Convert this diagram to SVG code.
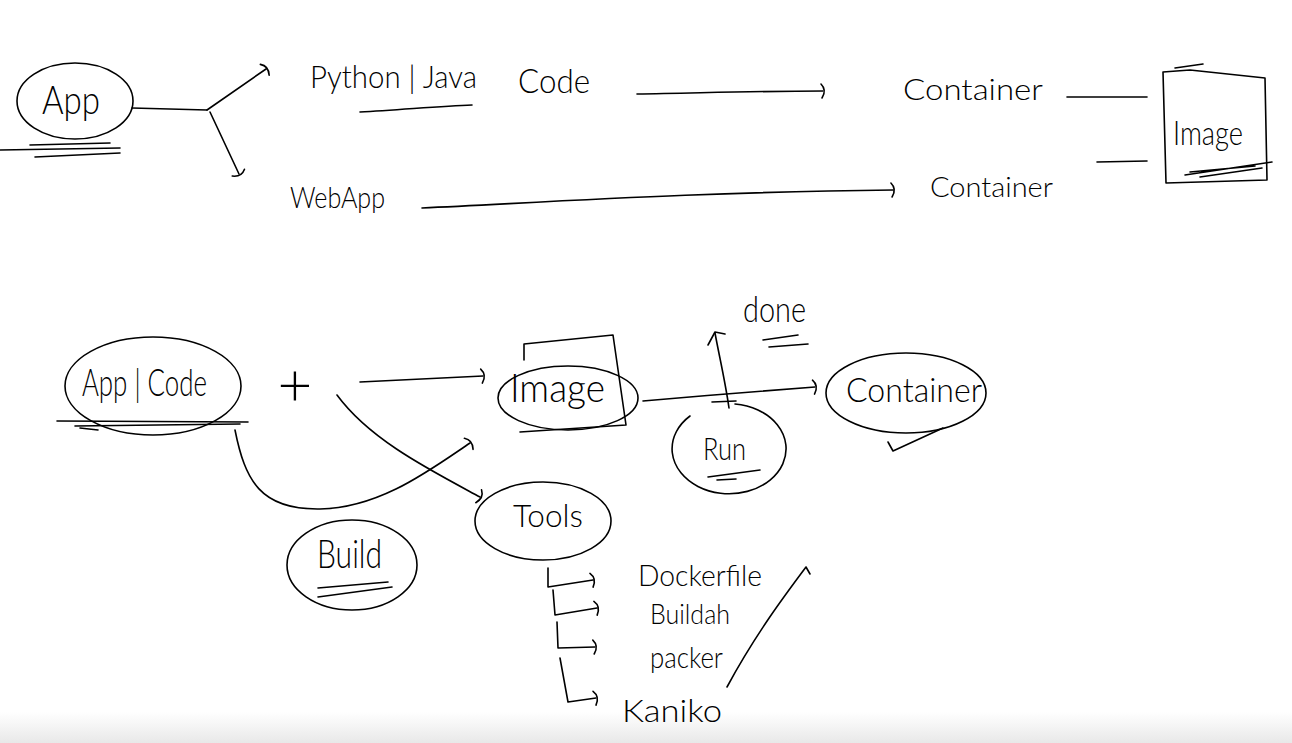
<svg xmlns="http://www.w3.org/2000/svg" width="1292" height="743" viewBox="0 0 1292 743">
<style>
.s{fill:none;stroke:#000;stroke-width:1.6;stroke-linecap:round;stroke-linejoin:round}
.t{font-family:"Lato","Open Sans","Liberation Sans",sans-serif;font-weight:300;fill:#000}
</style>
<defs>
<linearGradient id="bg" x1="0" y1="0" x2="0" y2="1">
<stop offset="0" stop-color="#ffffff"/>
<stop offset="1" stop-color="#e8e8e8"/>
</linearGradient>
<marker id="ah" markerUnits="userSpaceOnUse" markerWidth="16" markerHeight="20" refX="4" refY="10" orient="auto" viewBox="0 0 16 20">
<path d="M2,3 Q8,9 3,17" fill="none" stroke="#000" stroke-width="1.6" stroke-linecap="round"/>
</marker>
</defs>
<rect x="0" y="0" width="1292" height="743" fill="#fff"/>
<rect x="0" y="712" width="1292" height="31" fill="url(#bg)"/>

<g id="connectors">
<path class="s" d="M132,108 L207,110"/>
<path class="s" d="M207,110 L266,69" marker-end="url(#ah)"/>
<path class="s" d="M210,112 L239,174" marker-end="url(#ah)"/>
<path class="s" d="M637,94 C700,93 760,91 823,91" marker-end="url(#ah)"/>
<path class="s" d="M422,208 C550,202 700,192 893,190" marker-end="url(#ah)"/>
<path class="s" d="M1067,97 L1147,97"/>
<path class="s" d="M1097,162 L1147,161"/>
<path class="s" d="M360,382 C400,380 440,378 483,376" marker-end="url(#ah)"/>
<path class="s" d="M337,395 C370,440 430,470 480,497" marker-end="url(#ah)"/>
<path class="s" d="M235,430 C245,480 260,510 320,509 C380,508 430,470 470,443" marker-end="url(#ah)"/>
<path class="s" d="M643,401 C700,396 760,391 815,387" marker-end="url(#ah)"/>
<path class="s" d="M729,408 C725,380 719,355 715,333"/>
<path class="s" d="M708,345 L715,332 L725,334"/>
<path class="s" d="M548,568 L548,587 L593,580" marker-end="url(#ah)"/>
<path class="s" d="M553,590 L555,615 L597,608" marker-end="url(#ah)"/>
<path class="s" d="M557,622 L558,648 L595,647" marker-end="url(#ah)"/>
<path class="s" d="M560,658 L568,702 L596,698" marker-end="url(#ah)"/>
<path class="s" d="M727,687 C755,635 785,595 806,567 L810,574"/>
</g>

<g id="app">
<ellipse class="s" cx="75" cy="101" rx="58" ry="38"/>
<text class="t" x="42" y="114" font-size="40" textLength="58" lengthAdjust="spacingAndGlyphs">App</text>
<path class="s" d="M0,150 L120,148 M30,145 L110,143 M35,157 L120,153"/>
</g>

<g id="python-java-code">
<text class="t" x="310" y="88" font-size="32" textLength="167" lengthAdjust="spacingAndGlyphs">Python | Java</text>
<path class="s" d="M360,112 C400,110 440,106 472,105"/>
<text class="t" x="518" y="93" font-size="34" textLength="72" lengthAdjust="spacingAndGlyphs">Code</text>
</g>

<g id="webapp">
<text class="t" x="290" y="208" font-size="30" textLength="95" lengthAdjust="spacingAndGlyphs">WebApp</text>
</g>

<g id="container-top">
<text class="t" x="903" y="100" font-size="30" textLength="140" lengthAdjust="spacingAndGlyphs">Container</text>
</g>

<g id="container-bottom">
<text class="t" x="930" y="197" font-size="28" textLength="123" lengthAdjust="spacingAndGlyphs">Container</text>
</g>

<g id="image-top">
<path class="s" d="M1163,72 L1190,70 L1265,78 L1267,180 L1166,183 L1163,72 M1175,68 L1203,64"/>
<text class="t" x="1173" y="145" font-size="34" textLength="70" lengthAdjust="spacingAndGlyphs">Image</text>
<path class="s" d="M1185,175 L1272,162 M1190,172 L1255,166 M1200,177 L1262,168"/>
</g>

<g id="app-code">
<ellipse class="s" cx="153" cy="386" rx="88" ry="49"/>
<text class="t" x="82" y="396" font-size="38" textLength="125" lengthAdjust="spacingAndGlyphs">App | Code</text>
<path class="s" d="M57,421 L248,422 M75,426 L240,424 M80,428 L98,430"/>
</g>

<g id="plus">
<text class="t" x="295" y="406" font-size="60" text-anchor="middle">+</text>
</g>

<g id="image-mid">
<ellipse class="s" cx="568" cy="398" rx="70" ry="32"/>
<path class="s" d="M524,360 L524,344 L613,335 L626,425 L520,432"/>
<text class="t" x="510" y="402" font-size="40" textLength="95" lengthAdjust="spacingAndGlyphs">Image</text>
</g>

<g id="container-mid">
<ellipse class="s" cx="906" cy="393" rx="80" ry="40"/>
<text class="t" x="846" y="402" font-size="34" textLength="136" lengthAdjust="spacingAndGlyphs">Container</text>
<path class="s" d="M888,442 L893,451 L943,428"/>
</g>

<g id="done">
<text class="t" x="743" y="322" font-size="36" textLength="63" lengthAdjust="spacingAndGlyphs">done</text>
<path class="s" d="M763,340 L798,335 M769,347 L808,344"/>
</g>

<g id="run">
<path class="s" d="M690,416 A57,45 0 1 0 735,404"/>
<path class="s" d="M712,402 L736,401"/>
<text class="t" x="703" y="460" font-size="32" textLength="43" lengthAdjust="spacingAndGlyphs">Run</text>
<path class="s" d="M708,477 L760,470 M717,480 L736,479"/>
</g>

<g id="build">
<ellipse class="s" cx="352" cy="565" rx="65" ry="45"/>
<text class="t" x="317" y="568" font-size="40" textLength="65" lengthAdjust="spacingAndGlyphs">Build</text>
<path class="s" d="M318,588 L388,582 M318,597 L392,587"/>
</g>

<g id="tools">
<ellipse class="s" cx="543" cy="521" rx="68" ry="39"/>
<text class="t" x="513" y="527" font-size="32" textLength="70" lengthAdjust="spacingAndGlyphs">Tools</text>
</g>

<g id="dockerfile">
<text class="t" x="638" y="586" font-size="30" textLength="124" lengthAdjust="spacingAndGlyphs">Dockerfile</text>
</g>
<g id="buildah">
<text class="t" x="650" y="624" font-size="28" textLength="80" lengthAdjust="spacingAndGlyphs">Buildah</text>
</g>
<g id="packer">
<text class="t" x="650" y="668" font-size="30" textLength="73" lengthAdjust="spacingAndGlyphs">packer</text>
</g>
<g id="kaniko">
<text class="t" x="622" y="722" font-size="32" textLength="100" lengthAdjust="spacingAndGlyphs">Kaniko</text>
</g>
</svg>
